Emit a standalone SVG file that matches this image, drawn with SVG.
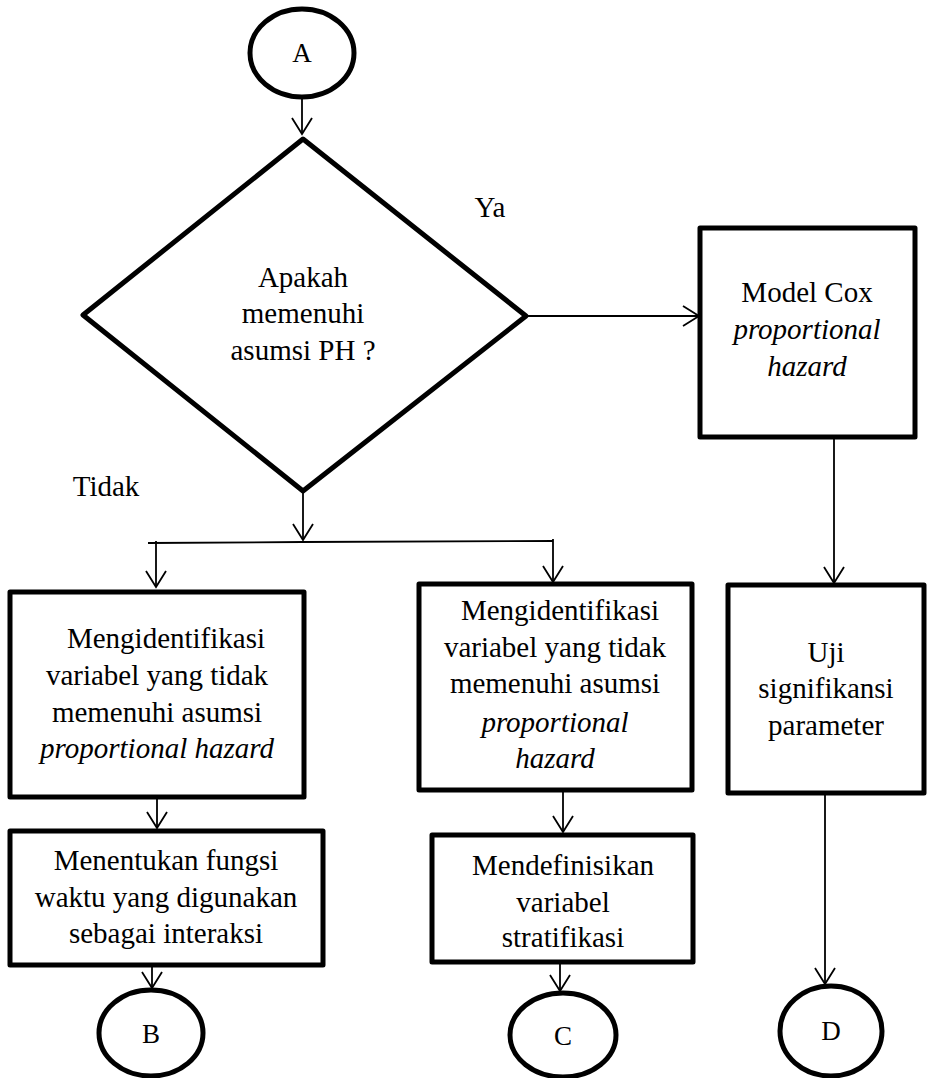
<svg xmlns="http://www.w3.org/2000/svg" width="931" height="1078" viewBox="0 0 931 1078" font-family="'Liberation Serif', 'Times New Roman', Times, Tinos, serif">
<defs>
<style>
.node{fill:#fff;stroke:#000;stroke-width:5;stroke-linejoin:round}
.t{font-family:'Liberation Serif', 'Times New Roman', Times, Tinos, serif;font-size:29px;fill:#000;text-anchor:middle}
.i{font-style:italic}
.c{fill:none;stroke:#000;stroke-width:1.8}
</style>
<marker id="arr" markerUnits="userSpaceOnUse" markerWidth="22" markerHeight="26" viewBox="-18 -12 22 24" refX="0" refY="0" orient="auto">
<path d="M-16,-10 L0,0 L-16,10" fill="none" stroke="#000" stroke-width="1.8"/>
</marker>
</defs>
<g id="connectors">
<line class="c" x1="302" y1="98" x2="302" y2="134" marker-end="url(#arr)"/>
<line class="c" x1="526" y1="316" x2="699" y2="316" marker-end="url(#arr)"/>
<line class="c" x1="303" y1="492" x2="303" y2="540" marker-end="url(#arr)"/>
<polyline class="c" points="148,543 303,542 553,541"/>
<line class="c" x1="156" y1="541" x2="156" y2="587" marker-end="url(#arr)"/>
<line class="c" x1="553" y1="539" x2="553" y2="582" marker-end="url(#arr)"/>
<line class="c" x1="834" y1="437" x2="834" y2="583" marker-end="url(#arr)"/>
<line class="c" x1="157" y1="797" x2="157" y2="828" marker-end="url(#arr)"/>
<line class="c" x1="563" y1="790" x2="563" y2="832" marker-end="url(#arr)"/>
<line class="c" x1="152" y1="958" x2="152" y2="988" marker-end="url(#arr)"/>
<line class="c" x1="560" y1="962" x2="560" y2="991" marker-end="url(#arr)"/>
<line class="c" x1="825" y1="793" x2="825" y2="984" marker-end="url(#arr)"/>
</g>
<g id="nodeA">
<ellipse class="node" cx="302" cy="53" rx="52" ry="44"/>
<text class="t" x="302" y="62" style="font-size:27px">A</text>
</g>
<g id="decision">
<polygon class="node" points="303,139 526,316 303,491 83,315"/>
<text class="t" x="303" y="287">Apakah</text>
<text class="t" x="303" y="323">memenuhi</text>
<text class="t" x="303" y="360">asumsi PH ?</text>
</g>
<g id="labelYa"><text class="t" x="490" y="217">Ya</text></g>
<g id="labelTidak"><text class="t" x="106" y="496">Tidak</text></g>
<g id="coxModel">
<rect class="node" x="700" y="228" width="215" height="209"/>
<text class="t" x="807" y="302">Model Cox</text>
<text class="t i" x="807" y="339">proportional</text>
<text class="t i" x="807" y="376">hazard</text>
</g>
<g id="identify1">
<rect class="node" x="10" y="592" width="294" height="205"/>
<text class="t" x="166" y="648">Mengidentifikasi</text>
<text class="t" x="157" y="685">variabel yang tidak</text>
<text class="t" x="157" y="722">memenuhi asumsi</text>
<text class="t i" x="157" y="758">proportional hazard</text>
</g>
<g id="timeFunction">
<rect class="node" x="10" y="831" width="313" height="134"/>
<text class="t" x="166" y="870">Menentukan fungsi</text>
<text class="t" x="166" y="907">waktu yang digunakan</text>
<text class="t" x="166" y="943">sebagai interaksi</text>
</g>
<g id="identify2">
<rect class="node" x="419" y="584" width="273" height="206"/>
<text class="t" x="560" y="620">Mengidentifikasi</text>
<text class="t" x="555" y="657">variabel yang tidak</text>
<text class="t" x="555" y="693">memenuhi asumsi</text>
<text class="t i" x="555" y="732">proportional</text>
<text class="t i" x="555" y="768">hazard</text>
</g>
<g id="stratify">
<rect class="node" x="432" y="835" width="261" height="127"/>
<text class="t" x="563" y="875">Mendefinisikan</text>
<text class="t" x="563" y="912">variabel</text>
<text class="t" x="563" y="947">stratifikasi</text>
</g>
<g id="significance">
<rect class="node" x="728" y="585" width="196" height="208"/>
<text class="t" x="826" y="662">Uji</text>
<text class="t" x="826" y="698">signifikansi</text>
<text class="t" x="826" y="735">parameter</text>
</g>
<g id="nodeB">
<ellipse class="node" cx="151" cy="1033" rx="52" ry="43"/>
<text class="t" x="151" y="1043" style="font-size:27px">B</text>
</g>
<g id="nodeC">
<ellipse class="node" cx="563" cy="1035" rx="53" ry="42"/>
<text class="t" x="563" y="1045" style="font-size:27px">C</text>
</g>
<g id="nodeD">
<ellipse class="node" cx="831" cy="1031" rx="51" ry="45"/>
<text class="t" x="831" y="1040" style="font-size:27px">D</text>
</g>
</svg>
